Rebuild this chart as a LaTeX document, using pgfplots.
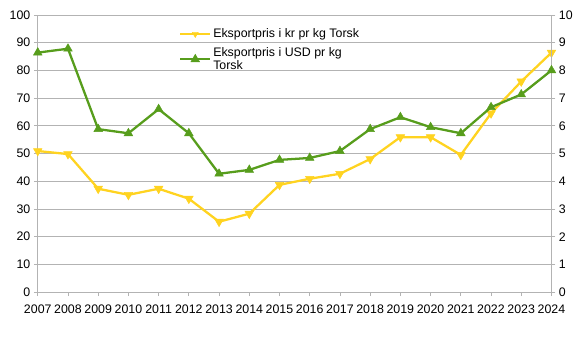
\documentclass[border=0pt]{standalone}
\usepackage{pgfplots}
\pgfplotsset{compat=1.18}
\usetikzlibrary{calc}
\usepackage{fontspec}
\setmainfont{Liberation Sans}
\definecolor{ylw}{HTML}{FFD320}
\definecolor{grn}{HTML}{579D1C}
\definecolor{gridc}{HTML}{B3B3B3}
\begin{document}
\begin{tikzpicture}[x=1bp,y=1bp]
\pgfplotsset{
  common/.style={
    scale only axis, width=517bp, height=279bp,
    xmin=2007, xmax=2024,
    tick label style={font=\fontsize{12.5}{14}\selectfont, text=black},
    /pgf/number format/assume math mode=true,
    axis line style={gridc, line width=0.8pt},
    major tick style={gridc, line width=0.8pt},
    major tick length=4bp,
    tick align=outside,
  }
}
\begin{axis}[common, name=ax,
  ymin=0, ymax=100, ytick={0,10,...,100},
  xtick={2007,...,2024},
  x tick label style={/pgf/number format/1000 sep={}, inner xsep=0pt, yshift=-5bp},
  axis x line*=bottom, axis y line*=left,
  ymajorgrids, grid style={gridc, line width=0.8pt},
  xtick pos=bottom, ytick pos=left,
]
\addplot[ylw, line width=2.3pt, mark=triangle*, mark options={rotate=180, fill=ylw, draw=ylw, line width=0.5pt}, mark size=5bp] coordinates {
(2007,50.9) (2008,49.8) (2009,37.3) (2010,35.1) (2011,37.3) (2012,33.7)
(2013,25.4) (2014,28.3) (2015,38.7) (2016,40.9) (2017,42.7) (2018,48.0)
(2019,55.9) (2020,55.9) (2021,49.5) (2022,64.5) (2023,76.0) (2024,86.4)};
\end{axis}
\begin{axis}[common,
  ymin=0, ymax=10, ytick={0,1,...,10},
  axis y line*=right, axis x line=none,
  ytick pos=right,
  legend style={at={(0.275,0.965)}, anchor=north west, draw=none, fill=none,
    font=\fontsize{12.5}{14}\selectfont, cells={align=left, anchor=west},
    row sep=4bp, inner xsep=0pt},
  legend image code/.code={\draw[mark repeat=2,mark phase=2] plot coordinates {(0bp,0bp)(15bp,0bp)(30bp,0bp)};},
]
\addlegendimage{ylw, line width=2.3pt, mark=triangle*, mark options={rotate=180, fill=ylw, draw=ylw, line width=0.5pt}, mark size=3.5bp}
\addlegendentry{Eksportpris i kr pr kg Torsk}
\addplot[grn, line width=2.3pt, mark=triangle*, mark options={fill=grn, draw=grn, line width=0.5pt}, mark size=5bp] coordinates {
(2007,8.64) (2008,8.78) (2009,5.88) (2010,5.73) (2011,6.60) (2012,5.73)
(2013,4.27) (2014,4.41) (2015,4.77) (2016,4.84) (2017,5.09) (2018,5.88)
(2019,6.31) (2020,5.95) (2021,5.73) (2022,6.67) (2023,7.13) (2024,8.00)};
\addlegendentry{Eksportpris i USD pr kg\\Torsk}
\end{axis}
\path[use as bounding box] ($(ax.south west)+(-38bp,-48bp)$) rectangle ($(ax.north east)+(21bp,15bp)$);
\end{tikzpicture}
\end{document}
